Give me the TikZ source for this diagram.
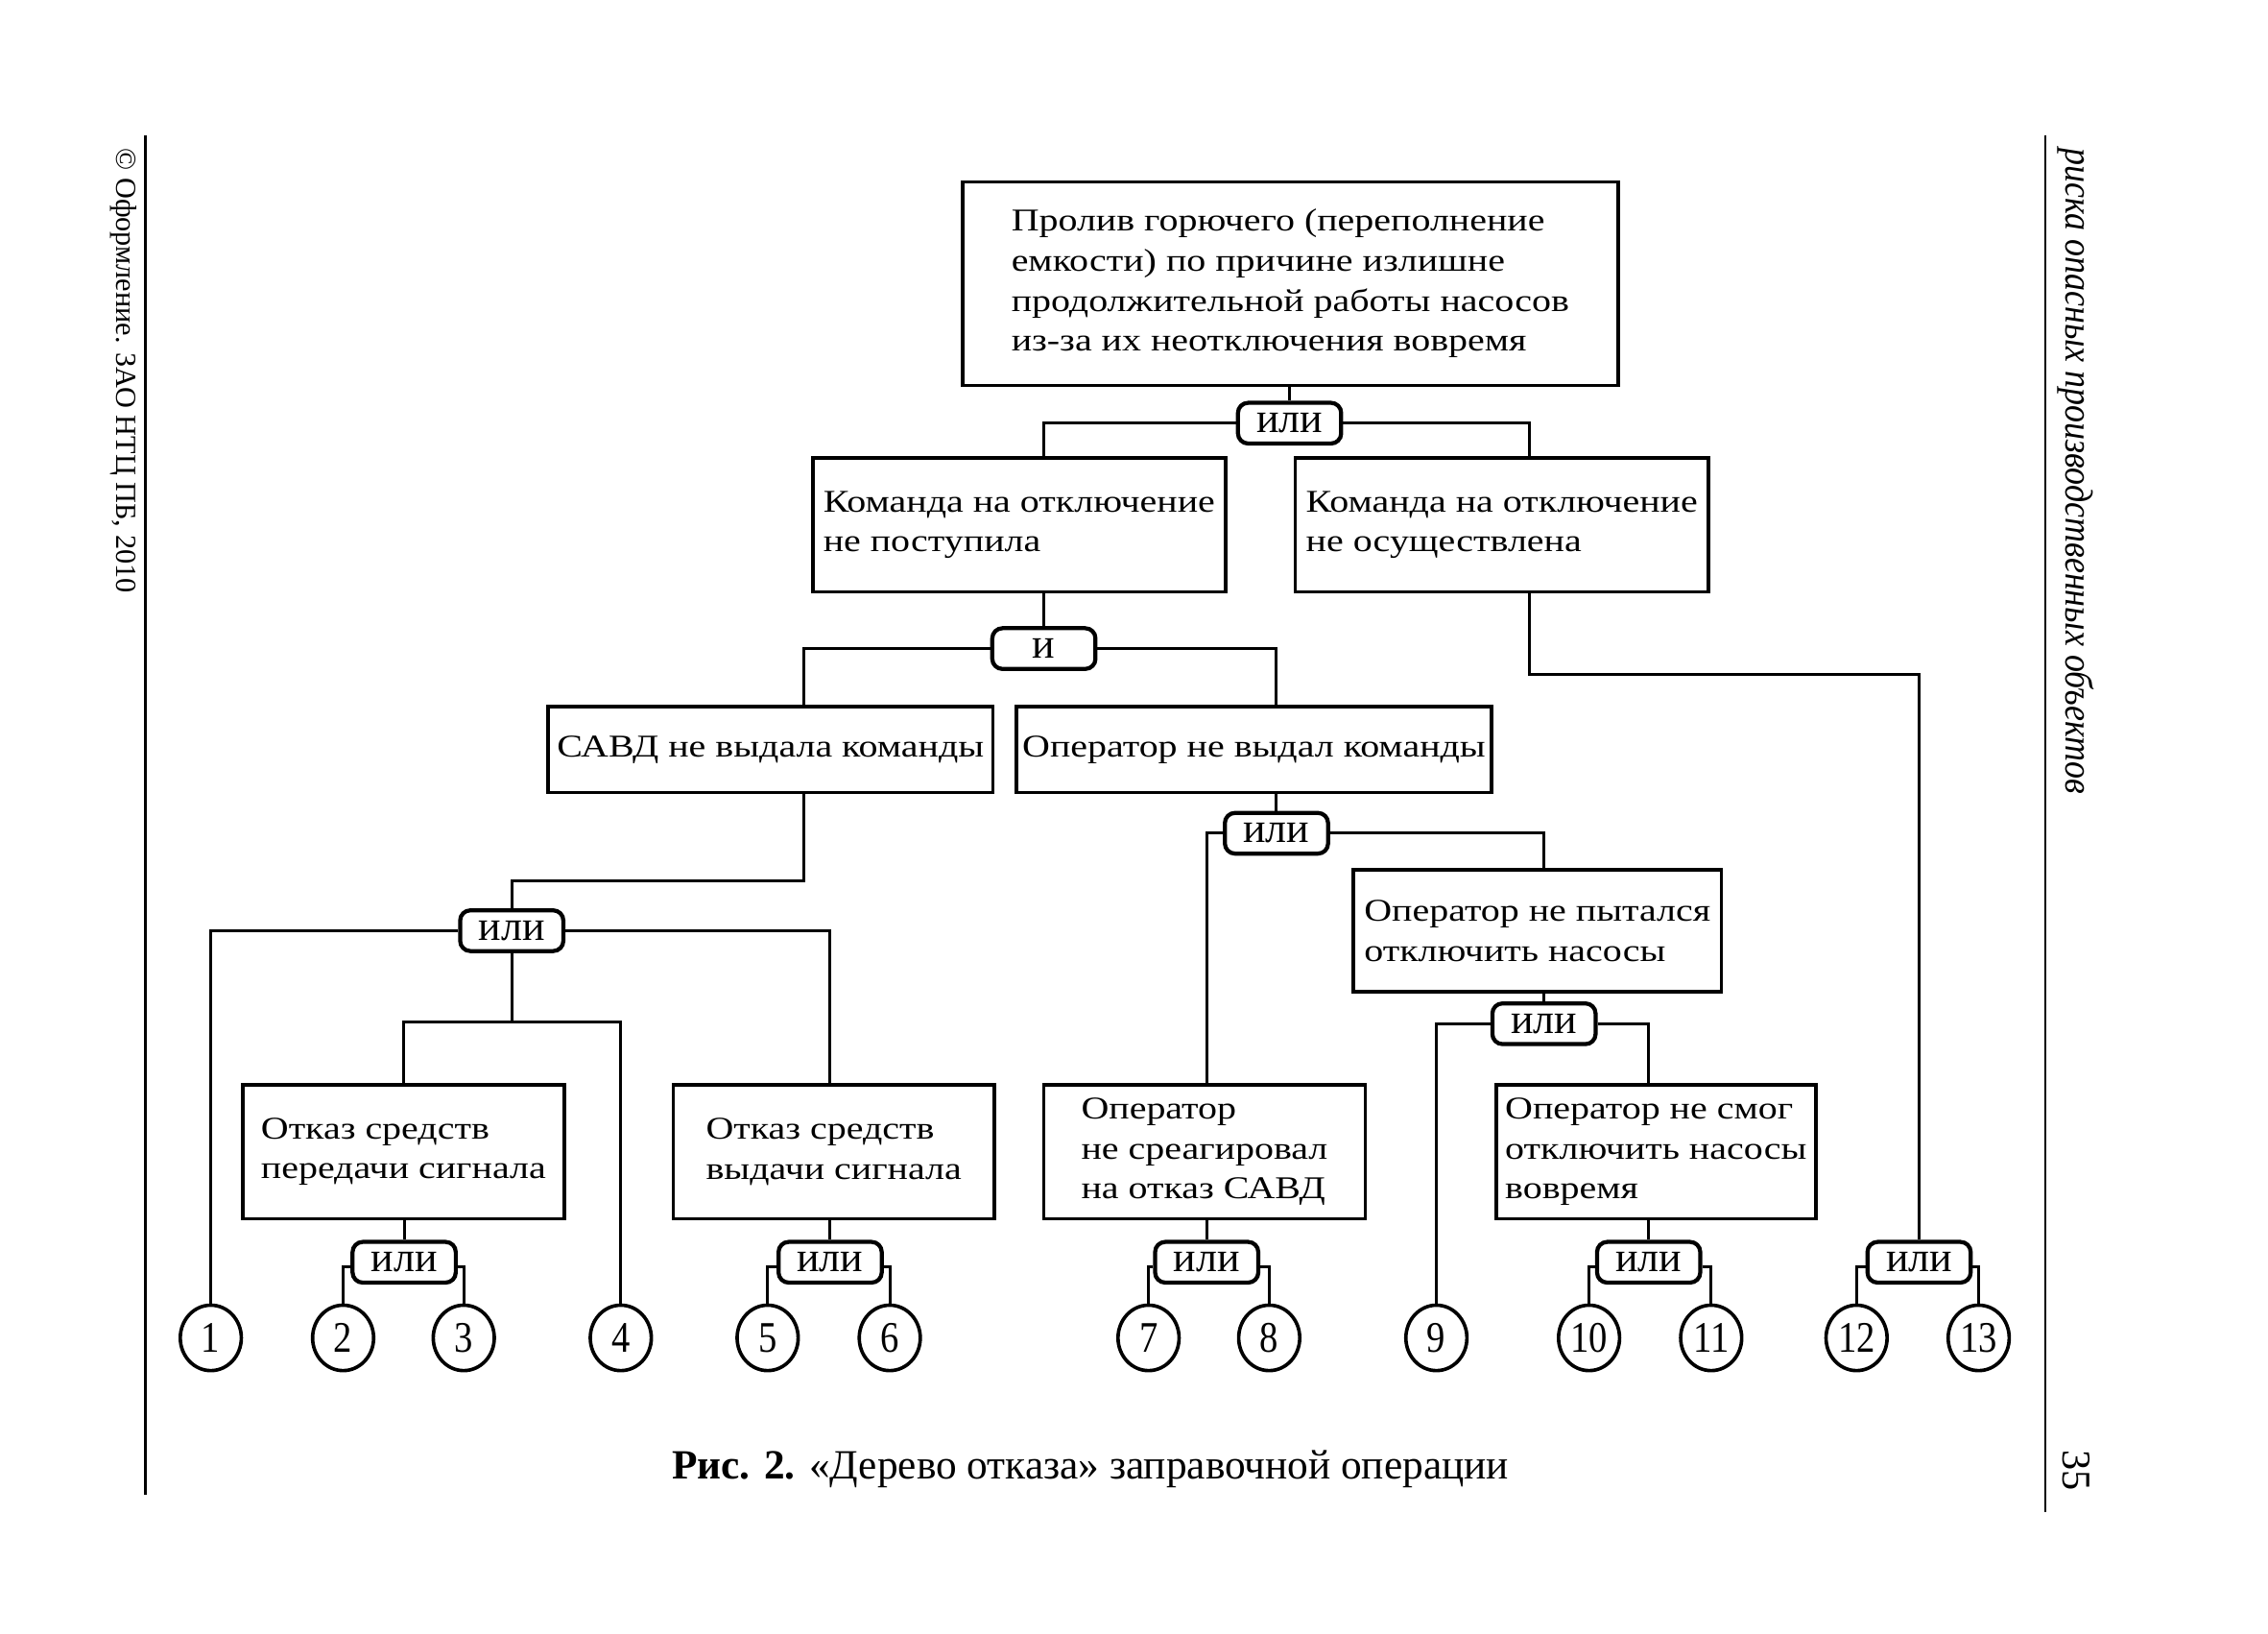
\documentclass[tikz,border=0pt]{standalone}
\usepackage{fontspec}
\setmainfont{Liberation Serif}
\newfontfamily\boxfont[FakeStretch=1.21]{Liberation Serif}
\newfontfamily\numfont[FakeStretch=0.85]{Liberation Serif}
\newfontfamily\headfont[FakeStretch=0.88]{Liberation Serif}
\usetikzlibrary{shapes.geometric}
\tikzset{
  box/.style={draw, line width=1.2pt, align=left, inner sep=0pt,
    font=\boxfont\fontsize{10.9}{13.75}\selectfont},
  gate/.style={draw, line width=1.4pt, rounded corners=3.5pt, minimum width=35.5pt,
    minimum height=14pt, inner sep=0pt, font=\fontsize{14.5}{15}\selectfont},
  ev/.style={draw, ellipse, line width=1.2pt, minimum width=21pt, minimum height=22.5pt,
    inner sep=0pt, font=\numfont\fontsize{15}{15}\selectfont},
  wire/.style={line width=1pt},
  rule/.style={line width=0.8pt},
}
\begin{document}
\begin{tikzpicture}[x=0.5pt, y=-0.5pt]
\fill[white] (0,0) rectangle (1560,1123);
\useasboundingbox (0,0) rectangle (1560,1123);

% page furniture
\draw[rule] (100,93) -- (100,1028);
\draw[rule] (1407,93) -- (1407,1040);
\node[rotate=-90, anchor=west, font=\fontsize{10}{12}\selectfont] (copy) at (85,95) {© Оформление. ЗАО НТЦ ПБ, 2010};
\node[rotate=-90, anchor=west, font=\headfont\itshape\fontsize{13.5}{15}\selectfont] (head) at (1428,95) {риска опасных производственных объектов};
\node[rotate=-90, anchor=east, font=\fontsize{14}{15}\selectfont] (page) at (1428,1032) {35};
\node[font=\fontsize{14.3}{16}\selectfont] (cap) at (750,1010) {\textbf{Рис. 2.} «Дерево отказа» заправочной операции};

% boxes
\node[box, minimum width=225.5pt, minimum height=70pt] (T) at (887.5,195)
  {Пролив горючего (переполнение\\емкости) по причине излишне\\продолжительной работы насосов\\из-за их неотключения вовремя};
\node[box, minimum width=142pt, minimum height=46pt] (A) at (701,361) {Команда на отключение\\не поступила};
\node[box, minimum width=142pt, minimum height=46pt] (B) at (1033,361) {Команда на отключение\\не осуществлена};
\node[box, minimum width=153pt, minimum height=29.5pt] (C) at (530,515.5) {САВД не выдала команды};
\node[box, minimum width=163.5pt, minimum height=29.5pt] (D) at (862.5,515.5) {Оператор не выдал команды};
\node[box, minimum width=110.5pt, minimum height=46pt] (E) at (277.5,792) {Отказ средств\\передачи сигнала};
\node[box, minimum width=110.5pt, minimum height=46pt] (F) at (573.5,792) {Отказ средств\\выдачи сигнала};
\node[box, minimum width=110.5pt, minimum height=46pt] (G) at (828.5,792) {Оператор\\не среагировал\\на отказ САВД};
\node[box, minimum width=126.5pt, minimum height=42pt] (H) at (1057.5,640) {Оператор не пытался\\отключить насосы};
\node[box, minimum width=110pt, minimum height=46pt] (I) at (1139,792) {Оператор не смог\\отключить насосы\\вовремя};

% gates
\node[gate] (g1) at (887,291) {или};
\node[gate] (g2) at (718,446) {и};
\node[gate] (g3) at (352,640) {или};
\node[gate] (g4) at (278,868) {или};
\node[gate] (g5) at (571,868) {или};
\node[gate] (g6) at (830,868) {или};
\node[gate] (g7) at (878,573) {или};
\node[gate] (g8) at (1062,704) {или};
\node[gate] (g9) at (1134,868) {или};
\node[gate] (g10) at (1320,868) {или};

% basic events
\foreach \n/\x in {1/145, 2/236, 3/319, 4/427, 5/528, 6/612, 7/790, 8/873, 9/988, 10/1093, 11/1177, 12/1277, 13/1361}
  \node[ev] (c\n) at (\x,920) {\n};

\coordinate (k3) at (352,606);
\coordinate (j3) at (352,703);
\coordinate (k10) at (1320,464);

% connectors
\draw[wire] (g1.north |- T.south) -- (g1.north);
\draw[wire] (g1.west) -| (g2 |- A.north);
\draw[wire] (g1.east) -| ([xshift=9.5pt]B.north);
\draw[wire] (g2 |- A.south) -- (g2.north);
\draw[wire] (g2.west) -| ([xshift=11.5pt]C.north);
\draw[wire] (g2.east) -| (g7 |- D.north);
\draw[wire] ([xshift=11.5pt]C.south) |- (k3) -- (g3.north);
\draw[wire] (g3.west) -| (c1.north);
\draw[wire] (g3.east) -| (g5 |- F.north);
\draw[wire] (g3.south) -- (j3);
\draw[wire] (E.north) |- (j3 -| c4.north) -- (c4.north);
\draw[wire] (g4 |- E.south) -- (g4.north);
\draw[wire] ([yshift=-1.5pt]g4.west) -| (c2.north);
\draw[wire] ([yshift=-1.5pt]g4.east) -| (c3.north);
\draw[wire] (g5 |- F.south) -- (g5.north);
\draw[wire] ([yshift=-1.5pt]g5.west) -| (c5.north);
\draw[wire] ([yshift=-1.5pt]g5.east) -| (c6.north);
\draw[wire] (g7 |- D.south) -- (g7.north);
\draw[wire] (g7.west) -| (g6 |- G.north);
\draw[wire] (g7.east) -| (g8 |- H.north);
\draw[wire] (g6 |- G.south) -- (g6.north);
\draw[wire] ([yshift=-1.5pt]g6.west) -| (c7.north);
\draw[wire] ([yshift=-1.5pt]g6.east) -| (c8.north);
\draw[wire] (g8 |- H.south) -- (g8.north);
\draw[wire] (g8.west) -| (c9.north);
\draw[wire] (g8.east) -| (g9 |- I.north);
\draw[wire] (g9 |- I.south) -- (g9.north);
\draw[wire] ([yshift=-1.5pt]g9.west) -| (c10.north);
\draw[wire] ([yshift=-1.5pt]g9.east) -| (c11.north);
\draw[wire] ([xshift=9.5pt]B.south) |- (k10) -- (g10.north);
\draw[wire] ([yshift=-1.5pt]g10.west) -| (c12.north);
\draw[wire] ([yshift=-1.5pt]g10.east) -| (c13.north);
\end{tikzpicture}
\end{document}
